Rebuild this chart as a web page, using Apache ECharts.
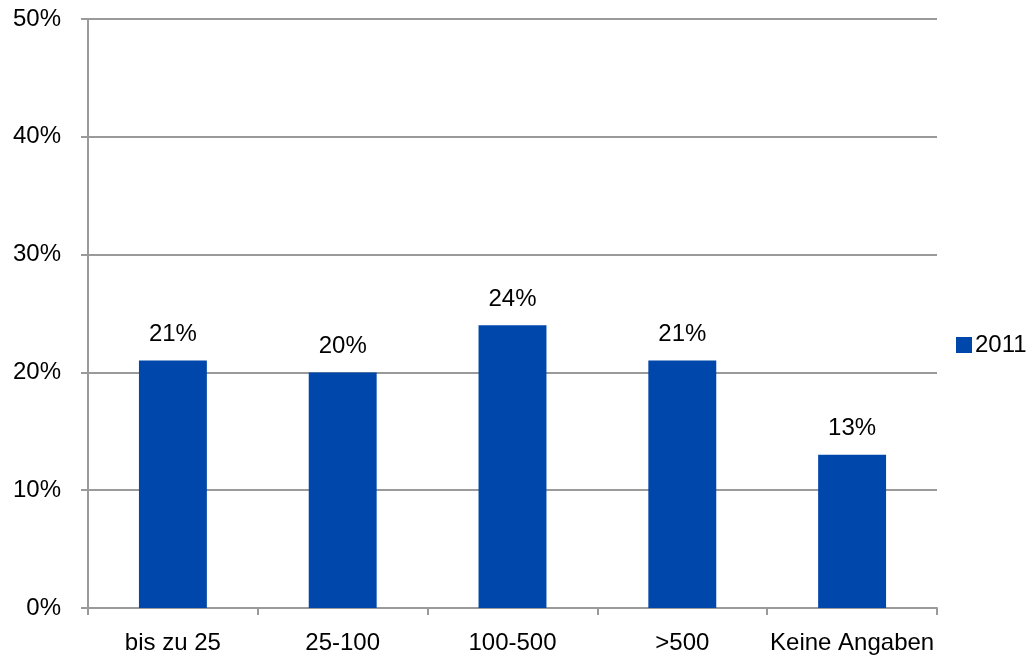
<!DOCTYPE html>
<html>
<head>
<meta charset="utf-8">
<script src="https://cdn.jsdelivr.net/npm/echarts@6/dist/echarts.min.js"></script>
<style>
  html, body { margin: 0; padding: 0; background: #fff; }
  #chart { width: 1032px; height: 662px; }
</style>
</head>
<body>
<div id="chart"></div>
<script>
// Company size groups and the share of respondents in each (2011)
const categories = ['bis zu 25', '25-100', '100-500', '>500', 'Keine Angaben'];
const seriesName = '2011';
const values = [21, 20, 24, 21, 13];
const yTicks = [0, 10, 20, 30, 40, 50];

const FONT = '"Liberation Sans", Arial, sans-serif';
const AXIS_GRAY = '#9a9a9a';

const chart = echarts.init(document.getElementById('chart'), null, { renderer: 'canvas' });
chart.setOption({
  animation: false,
  backgroundColor: '#ffffff',
  textStyle: { fontFamily: FONT, color: '#000' },
  grid: { left: 88, right: 95, top: 19, bottom: 54, containLabel: false },
  legend: {
    data: [seriesName],
    left: 956,
    top: 333,
    padding: 0,
    itemWidth: 16,
    itemHeight: 16,
    itemGap: 4,
    icon: 'rect',
    textStyle: { fontFamily: FONT, fontSize: 24, color: '#000', padding: [0, 0, 0, -2] }
  },
  xAxis: {
    type: 'category',
    data: categories,
    axisLine: { show: true, lineStyle: { color: AXIS_GRAY, width: 2 } },
    axisTick: { show: true, length: 7, alignWithLabel: false, lineStyle: { color: AXIS_GRAY, width: 2 } },
    axisLabel: { fontFamily: FONT, fontSize: 24, color: '#000', margin: 23, interval: 0 },
    splitLine: { show: false }
  },
  yAxis: {
    type: 'value',
    min: yTicks[0],
    max: yTicks[yTicks.length - 1],
    interval: 10,
    axisLine: { show: true, lineStyle: { color: AXIS_GRAY, width: 2 } },
    axisTick: { show: true, length: 7, lineStyle: { color: AXIS_GRAY, width: 2 } },
    axisLabel: { fontFamily: FONT, fontSize: 24, color: '#000', margin: 27, formatter: v => v + '%' },
    splitLine: { show: true, lineStyle: { color: AXIS_GRAY, width: 2 } }
  },
  series: [{
    name: seriesName,
    type: 'bar',
    data: values,
    barWidth: '40%',
    itemStyle: { color: '#0047AB' },
    label: {
      show: true,
      position: 'top',
      distance: 14,
      fontFamily: FONT,
      fontSize: 24,
      color: '#000',
      formatter: p => p.value + '%'
    }
  }]
});
</script>
</body>
</html>
